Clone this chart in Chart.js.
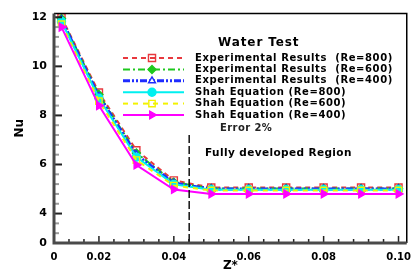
<!DOCTYPE html>
<html>
<head>
<meta charset="utf-8"/>
<style>
  body { margin: 0; padding: 0; background: #ffffff; }
  #wrap { width: 419px; height: 273px; }
</style>
</head>
<body>
<div id="wrap"><canvas id="chart" width="419" height="273"></canvas></div>
<script src="https://cdn.jsdelivr.net/npm/chart.js@4.4.1/dist/chart.umd.min.js"></script>
<script>
// values
var zStar      = [0.01, 0.02, 0.03, 0.04, 0.05, 0.06, 0.07, 0.08, 0.09, 0.10];
var exp800     = [12.00, 8.93, 6.58, 5.35, 5.06, 5.06, 5.06, 5.06, 5.06, 5.06];
var exp600     = [11.95, 8.85, 6.47, 5.28, 5.02, 5.02, 5.02, 5.02, 5.02, 5.02];
var exp400     = [11.90, 8.78, 6.40, 5.24, 5.00, 5.00, 5.00, 5.00, 5.00, 5.00];
var shah800    = [11.83, 8.70, 6.30, 5.19, 4.97, 4.97, 4.97, 4.97, 4.97, 4.97];
var shah600    = [11.72, 8.58, 6.18, 5.14, 4.94, 4.94, 4.94, 4.94, 4.94, 4.94];
var shah400    = [11.60, 8.40, 5.98, 4.98, 4.80, 4.80, 4.80, 4.80, 4.80, 4.80];
var devX       = 0.0441;   // fully developed boundary
var devTop     = 7.2;

var xTicks = [0.008, 0.02, 0.04, 0.06, 0.08, 0.10];
var yTicks = [2.8, 4, 6, 8, 10, 12];

var FONT = "'DejaVu Sans', sans-serif";

function pts(arr) {
  return arr.map(function(v, i) { return {x: zStar[i], y: v}; });
}

function series(label, data, color, dash, width, style, radius, fill, rot, order) {
  return {
    label: label, data: pts(data), borderColor: color, borderWidth: width,
    borderDash: dash, pointStyle: style, pointRadius: radius,
    pointBorderColor: color, pointBackgroundColor: fill, pointBorderWidth: 1.4,
    pointRotation: rot, order: order, tension: 0, clip: false, showInLegend: true
  };
}

var datasets = [
  series('Experimental Results  (Re=800)', exp800, '#e8383e', [5, 4], 2, 'rect', 5, 'rgba(0,0,0,0)', 0, 6),
  series('Experimental Results  (Re=600)', exp600, '#1ec81e', [7, 3, 2, 3], 2, 'rectRot', 4, '#1ec81e', 0, 5),
  series('Experimental Results  (Re=400)', exp400, '#1f2cff', [7, 2, 2, 2, 2, 2], 3, 'triangle', 4, '#ffffff', 0, 4),
  series('Shah Equation (Re=800)', shah800, '#00f0f0', [], 2, 'circle', 4, '#00f0f0', 0, 3),
  series('Shah Equation (Re=600)', shah600, '#f2f200', [5, 5], 2, 'rect', 4.5, 'rgba(0,0,0,0)', 0, 2),
  series('Shah Equation (Re=400)', shah400, '#ff00ff', [], 2, 'triangle', 4.5, '#ff00ff', 90, 1),
  {
    label: 'boundary', data: [{x: devX, y: devTop}, {x: devX, y: 2.8}],
    borderColor: '#111111', borderWidth: 1.5, borderDash: [8, 3],
    pointRadius: 0, order: 0, showInLegend: false
  }
];

var decor = {
  id: 'decor',
  afterDatasetsDraw: function(chart) {
    var ctx = chart.ctx, a = chart.chartArea;
    var xs = chart.scales.x, ys = chart.scales.y;
    ctx.save();

    // minor and major ticks, pointing inwards
    var v, p;
    for (v = 3.2; v < 12.01; v += 0.4) {
      p = ys.getPixelForValue(v);
      var major = yTicks.some(function(t) { return Math.abs(t - v) < 0.01; });
      ctx.strokeStyle = major ? '#222222' : '#9a9a9a';
      ctx.lineWidth = 2;
      ctx.beginPath();
      ctx.moveTo(a.left, p);
      ctx.lineTo(a.left + (major ? 8 : 5), p);
      ctx.stroke();
    }
    for (v = 0.012; v < 0.1001; v += 0.004) {
      p = xs.getPixelForValue(v);
      var xm = xTicks.some(function(t) { return Math.abs(t - v) < 0.0005; });
      ctx.strokeStyle = '#222222';
      ctx.lineWidth = 1.5;
      ctx.beginPath();
      ctx.moveTo(p, a.bottom);
      ctx.lineTo(p, a.bottom - (xm ? 7 : 4));
      ctx.stroke();
    }

    // frame
    ctx.strokeStyle = '#000000';
    ctx.lineWidth = 1.5;
    ctx.beginPath();
    ctx.moveTo(a.left, a.top);
    ctx.lineTo(a.right, a.top);
    ctx.lineTo(a.right, a.bottom);
    ctx.stroke();
    ctx.strokeStyle = '#4a4a4a';
    ctx.lineWidth = 3;
    ctx.beginPath();
    ctx.moveTo(a.left, a.top);
    ctx.lineTo(a.left, a.bottom);
    ctx.lineTo(a.right, a.bottom);
    ctx.stroke();

    // legend inside the plot
    ctx.fillStyle = '#000000';
    ctx.textBaseline = 'middle';
    ctx.textAlign = 'left';
    ctx.font = 'bold 12px ' + FONT;
    ctx.letterSpacing = '0.9px';
    ctx.fillText('Water Test', 218, 43);
    var rowY = 58;
    chart.data.datasets.forEach(function(ds) {
      if (!ds.showInLegend) return;
      ctx.save();
      ctx.strokeStyle = ds.borderColor;
      ctx.lineWidth = ds.borderWidth;
      ctx.setLineDash(ds.borderDash);
      ctx.beginPath();
      ctx.moveTo(123, rowY);
      ctx.lineTo(184, rowY);
      ctx.stroke();
      ctx.setLineDash([]);
      ctx.strokeStyle = ds.pointBorderColor;
      ctx.fillStyle = ds.pointBackgroundColor;
      ctx.lineWidth = ds.pointBorderWidth;
      Chart.helpers.drawPoint(ctx, {
        pointStyle: ds.pointStyle, radius: ds.pointRadius,
        rotation: ds.pointRotation, borderWidth: ds.pointBorderWidth
      }, 152, rowY);
      ctx.restore();
      ctx.fillStyle = '#000000';
      ctx.font = 'bold 10px ' + FONT;
      ctx.letterSpacing = '0.6px';
      ctx.fillText(ds.label, 195, rowY);
      rowY += 11.4;
    });
    ctx.font = 'bold 10px ' + FONT;
    ctx.letterSpacing = '0.4px';
    ctx.fillStyle = '#222222';
    ctx.fillText('Error 2%', 220, 128);
    ctx.fillStyle = '#000000';
    ctx.font = 'bold 10.5px ' + FONT;
    ctx.letterSpacing = '0.4px';
    ctx.fillText('Fully developed Region', 205, 153);

    // axis titles
    ctx.letterSpacing = '0px';
    ctx.font = 'bold 12px ' + FONT;
    ctx.textAlign = 'center';
    ctx.fillText('Z*', (a.left + a.right) / 2, 266);
    ctx.translate(20, (a.top + a.bottom) / 2);
    ctx.rotate(-Math.PI / 2);
    ctx.fillText('Nu', 0, 0);
    ctx.restore();
  }
};

new Chart(document.getElementById('chart'), {
  type: 'line',
  data: {datasets: datasets},
  options: {
    responsive: false,
    animation: false,
    devicePixelRatio: 1,
    layout: {padding: {top: 8, right: 4, left: 0, bottom: 0}},
    plugins: {legend: {display: false}, tooltip: {enabled: false}},
    scales: {
      x: {
        type: 'linear', min: 0.008, max: 0.1022,
        grid: {display: false, drawTicks: false},
        border: {display: false},
        afterBuildTicks: function(s) { s.ticks = xTicks.map(function(v) { return {value: v}; }); },
        afterFit: function(s) { s.height = 30; },
        ticks: {
          autoSkip: false, maxRotation: 0, padding: 8, color: '#000000',
          font: {family: FONT, size: 10, weight: 'bold'},
          callback: function(v) { return v === 0.008 ? '0' : v.toFixed(2); }
        }
      },
      y: {
        type: 'linear', min: 2.8, max: 12.15,
        grid: {display: false, drawTicks: false},
        border: {display: false},
        afterBuildTicks: function(s) { s.ticks = yTicks.map(function(v) { return {value: v}; }); },
        afterFit: function(s) { s.width = 54; },
        ticks: {
          padding: 7, color: '#000000',
          font: {family: FONT, size: 11, weight: 'bold'},
          callback: function(v) { return v === 2.8 ? '0' : String(v); }
        }
      }
    }
  },
  plugins: [decor]
});
</script>
</body>
</html>
